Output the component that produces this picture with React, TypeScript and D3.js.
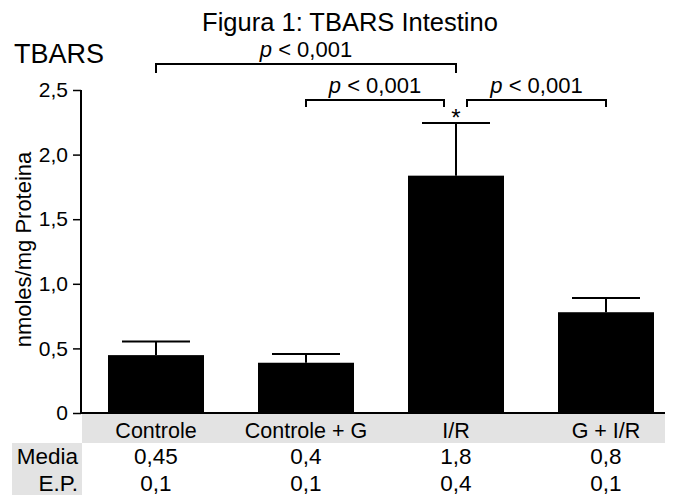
import { useEffect, useRef } from "react";
import * as d3 from "d3";

const categories = ["Controle", "Controle + G", "I/R", "G + I/R"];
const means = [0.448, 0.389, 1.837, 0.78];
const errors = [0.106, 0.067, 0.408, 0.11];
const mediaLabels = ["0,45", "0,4", "1,8", "0,8"];
const epLabels = ["0,1", "0,1", "0,4", "0,1"];
const yTicks = [0, 0.5, 1, 1.5, 2, 2.5];
// comparisons: [from index, to index, label]
const comparisons: [number, number, string][] = [
  [0, 2, "< 0,001"],
  [1, 2, "< 0,001"],
  [2, 3, "< 0,001"],
];
const starred = [2];

const FONT = "'Liberation Sans', Arial, sans-serif";

function App() {
  const ref = useRef<SVGSVGElement>(null);

  useEffect(() => {
    const W = 675,
      H = 495;
    const margin = { left: 81, top: 90, bottom: 413 };

    const svg = d3.select(ref.current);
    svg.selectAll("*").remove();
    svg.attr("width", W).attr("height", H);
    svg.append("rect").attr("width", W).attr("height", H).attr("fill", "#fff");

    const x = d3
      .scaleBand()
      .domain(categories)
      .range([margin.left, margin.left + 600])
      .paddingInner(0.36)
      .paddingOuter(0.18);
    const y = d3.scaleLinear().domain([0, 2.5]).range([margin.bottom, margin.top]);
    const cx = (i: number) => (x(categories[i]) ?? 0) + x.bandwidth() / 2;

    // title
    svg
      .append("text")
      .attr("x", 350)
      .attr("y", 31)
      .attr("text-anchor", "middle")
      .style("font-family", FONT)
      .style("font-size", "25.5px")
      .text("Figura 1: TBARS Intestino");

    svg
      .append("text")
      .attr("x", 14)
      .attr("y", 63)
      .style("font-family", FONT)
      .style("font-size", "27px")
      .text("TBARS");

    // gray band behind category labels and table row labels
    svg
      .append("rect")
      .attr("x", margin.left + 1)
      .attr("y", margin.bottom + 1)
      .attr("width", 665 - margin.left - 1)
      .attr("height", 29)
      .attr("fill", "#e3e3e3");
    svg
      .append("rect")
      .attr("x", 12)
      .attr("y", 443)
      .attr("width", margin.left + 1 - 12)
      .attr("height", 52)
      .attr("fill", "#e3e3e3");

    // bars
    svg
      .selectAll("rect.bar")
      .data(means)
      .join("rect")
      .attr("class", "bar")
      .attr("x", (_, i) => x(categories[i]) ?? 0)
      .attr("width", x.bandwidth())
      .attr("y", (d) => y(d))
      .attr("height", (d) => y(0) - y(d))
      .attr("fill", "#000");

    // error bars
    const capW = 68;
    means.forEach((m, i) => {
      const c = cx(i);
      svg
        .append("line")
        .attr("x1", c)
        .attr("x2", c)
        .attr("y1", y(m))
        .attr("y2", y(m + errors[i]))
        .attr("stroke", "#000")
        .attr("stroke-width", 2);
      svg
        .append("line")
        .attr("x1", c - capW / 2)
        .attr("x2", c + capW / 2)
        .attr("y1", y(m + errors[i]))
        .attr("y2", y(m + errors[i]))
        .attr("stroke", "#000")
        .attr("stroke-width", 2);
    });

    // y axis
    const fmt = (d: number) => (d === 0 ? "0" : d3.format(".1f")(d).replace(".", ","));
    const yAxis = svg
      .append("g")
      .attr("transform", `translate(${margin.left},0)`)
      .call(d3.axisLeft(y).tickValues(yTicks).tickFormat(fmt as any).tickSize(8).tickPadding(5));
    yAxis.select(".domain").attr("stroke-width", 2).attr("d", `M0,${margin.top}V${margin.bottom}`);
    yAxis.selectAll(".tick line").attr("stroke-width", 1.5);
    yAxis
      .selectAll(".tick text")
      .style("font-family", FONT)
      .style("font-size", "21px")
      .attr("fill", "#000");

    // x axis line
    svg
      .append("line")
      .attr("x1", margin.left)
      .attr("x2", 665)
      .attr("y1", y(0))
      .attr("y2", y(0))
      .attr("stroke", "#000")
      .attr("stroke-width", 2);

    // y label
    svg
      .append("text")
      .attr("transform", `translate(31,${(margin.top + margin.bottom) / 2 - 2}) rotate(-90)`)
      .attr("text-anchor", "middle")
      .style("font-family", FONT)
      .style("font-size", "22px")
      .text("nmoles/mg Proteina");

    // category labels
    svg
      .selectAll("text.cat")
      .data(categories)
      .join("text")
      .attr("class", "cat")
      .attr("x", (_, i) => cx(i))
      .attr("y", 438)
      .attr("text-anchor", "middle")
      .style("font-family", FONT)
      .style("font-size", "21.5px")
      .text((d) => d);

    // table rows
    const rows: [string, string[], number][] = [
      ["Media", mediaLabels, 464],
      ["E.P.", epLabels, 491],
    ];
    rows.forEach(([label, vals, yy]) => {
      svg
        .append("text")
        .attr("x", 78)
        .attr("y", yy)
        .attr("text-anchor", "end")
        .style("font-family", FONT)
        .style("font-size", "22.5px")
        .text(label);
      vals.forEach((v, i) => {
        svg
          .append("text")
          .attr("x", cx(i))
          .attr("y", yy)
          .attr("text-anchor", "middle")
          .style("font-family", FONT)
          .style("font-size", "22.5px")
          .text(v);
      });
    });

    // significance brackets
    const brackets = [
      { x1: cx(comparisons[0][0]), x2: cx(comparisons[0][1]), yb: 64, drop: 9 },
      { x1: cx(comparisons[1][0]), x2: cx(comparisons[1][1]) - 12, yb: 100, drop: 7 },
      { x1: cx(comparisons[2][0]) + 11, x2: cx(comparisons[2][1]), yb: 100, drop: 7 },
    ];
    brackets.forEach((b, k) => {
      svg
        .append("path")
        .attr("d", `M${b.x1},${b.yb + b.drop}V${b.yb}H${b.x2}V${b.yb + b.drop}`)
        .attr("fill", "none")
        .attr("stroke", "#000")
        .attr("stroke-width", 2);
      const t = svg
        .append("text")
        .attr("x", (b.x1 + b.x2) / 2)
        .attr("y", b.yb - 7)
        .attr("text-anchor", "middle")
        .style("font-family", FONT)
        .style("font-size", "22px");
      t.append("tspan").style("font-style", "italic").text("p");
      t.append("tspan").text(" " + comparisons[k][2]);
    });

    starred.forEach((i) => {
      svg
        .append("text")
        .attr("x", cx(i))
        .attr("y", y(means[i] + errors[i]) + 3)
        .attr("text-anchor", "middle")
        .style("font-family", FONT)
        .style("font-size", "24px")
        .text("*");
    });
  }, []);

  return (
    <div style={{ position: "absolute", left: 0, top: 0 }}>
      <svg ref={ref} style={{ display: "block" }} />
    </div>
  );
}

export default App;
